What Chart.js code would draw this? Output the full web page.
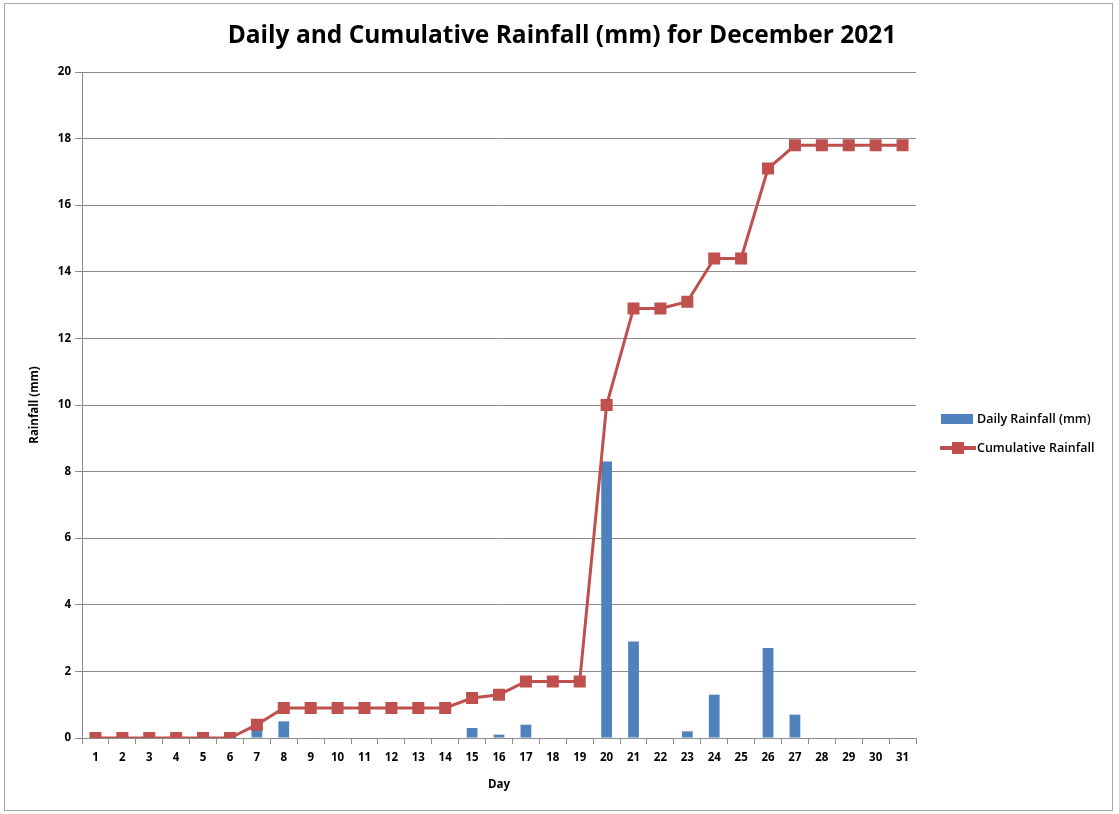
<!DOCTYPE html>
<html>
<head>
<meta charset="utf-8">
<script src="https://cdn.jsdelivr.net/npm/chart.js@4"></script>
<style>
  html, body { margin: 0; padding: 0; background: #fff; }
  body { width: 1119px; height: 814px; position: relative; overflow: hidden; }
  .frame { position: absolute; left: 4px; top: 3px; width: 1109px; height: 808px; border: 1px solid #a6a6a6; box-sizing: border-box; }
  canvas { position: absolute; left: 0; top: 0; }
</style>
</head>
<body>
<div class="frame"></div>
<canvas id="rainChart" width="1119" height="814"></canvas>
<script>
// Данные
const days = ['1','2','3','4','5','6','7','8','9','10','11','12','13','14','15','16',
              '17','18','19','20','21','22','23','24','25','26','27','28','29','30','31'];
const dailyRain = [0, 0, 0, 0, 0, 0, 0.4, 0.5, 0, 0, 0, 0, 0, 0, 0.3, 0.1,
                   0.4, 0, 0, 8.3, 2.9, 0, 0.2, 1.3, 0, 2.7, 0.7, 0, 0, 0, 0];
const cumulativeRain = [0, 0, 0, 0, 0, 0, 0.4, 0.9, 0.9, 0.9, 0.9, 0.9, 0.9, 0.9, 1.2, 1.3,
                        1.7, 1.7, 1.7, 10.0, 12.9, 12.9, 13.1, 14.4, 14.4, 17.1, 17.8, 17.8, 17.8, 17.8, 17.8];
const seriesNames = ['Daily Rainfall (mm)', 'Cumulative Rainfall'];
const chartTitle = 'Daily and Cumulative Rainfall (mm) for December 2021';

const blue = '#4F81BD';
const red = '#C0504D';
const gridColor = '#8c8c8c';
const fontFamily = '"Open Sans", "Noto Sans", sans-serif';

// Заголовок и легенда справа
const titleAndLegend = {
    id: 'titleAndLegend',
    afterDraw(chart) {
        const ctx = chart.ctx;
        ctx.save();
        ctx.textBaseline = 'middle';

        ctx.font = 'bold 24.5px ' + fontFamily;
        ctx.fillStyle = '#000';
        ctx.textAlign = 'center';
        ctx.fillText(chartTitle, 562, 36);

        ctx.textAlign = 'left';
        ctx.font = '600 12.5px ' + fontFamily;
        ctx.fillStyle = blue;
        ctx.fillRect(941, 414, 32, 10);
        ctx.fillStyle = '#000';
        ctx.fillText(seriesNames[0], 977, 419);

        ctx.strokeStyle = red;
        ctx.lineWidth = 4;
        ctx.beginPath();
        ctx.moveTo(940, 448);
        ctx.lineTo(976, 448);
        ctx.stroke();
        ctx.fillStyle = red;
        ctx.fillRect(952, 442, 12, 12);
        ctx.fillStyle = '#000';
        ctx.fillText(seriesNames[1], 977, 448);
        ctx.restore();
    }
};

const ctx = document.getElementById('rainChart').getContext('2d');
new Chart(ctx, {
    type: 'bar',
    data: {
        labels: days,
        datasets: [{
            type: 'line',
            label: seriesNames[1],
            data: cumulativeRain,
            borderColor: red,
            backgroundColor: red,
            borderWidth: 3,
            pointStyle: 'rect',
            pointRadius: 8.5,
            pointBorderWidth: 0,
            pointBackgroundColor: red,
            tension: 0,
            order: 1
        }, {
            type: 'bar',
            label: seriesNames[0],
            data: dailyRain,
            backgroundColor: blue,
            categoryPercentage: 0.8,
            barPercentage: 0.5,
            order: 2
        }]
    },
    plugins: [titleAndLegend],
    options: {
        responsive: false,
        animation: false,
        layout: {
            padding: { left: 28, right: 203, top: 72, bottom: 22 }
        },
        plugins: {
            legend: { display: false },
            tooltip: { enabled: false },
            title: { display: false }
        },
        scales: {
            x: {
                offset: true,
                grid: {
                    offset: true,
                    drawOnChartArea: false,
                    drawTicks: true,
                    tickLength: 6,
                    color: gridColor
                },
                border: { color: gridColor, width: 1 },
                ticks: {
                    color: '#000',
                    padding: 7,
                    maxRotation: 0,
                    autoSkip: false,
                    font: { family: fontFamily, size: 11.5, weight: 'bold' }
                },
                title: {
                    display: true,
                    text: 'Day',
                    color: '#000',
                    font: { family: fontFamily, size: 11.5, weight: 'bold' },
                    padding: { top: 8, bottom: 0 }
                },
                afterFit(scale) { scale.height = 54; }
            },
            y: {
                min: 0,
                max: 20,
                ticks: {
                    stepSize: 2,
                    color: '#000',
                    padding: 4,
                    font: { family: fontFamily, size: 11.5, weight: 'bold' }
                },
                grid: {
                    color: gridColor,
                    drawTicks: true,
                    tickLength: 7
                },
                border: { color: gridColor, width: 1 },
                title: {
                    display: true,
                    text: 'Rainfall (mm)',
                    color: '#000',
                    font: { family: fontFamily, size: 11.5, weight: 'bold' },
                    padding: { top: 0, bottom: 4 }
                },
                afterFit(scale) { scale.width = 54; }
            }
        }
    }
});
</script>
</body>
</html>
